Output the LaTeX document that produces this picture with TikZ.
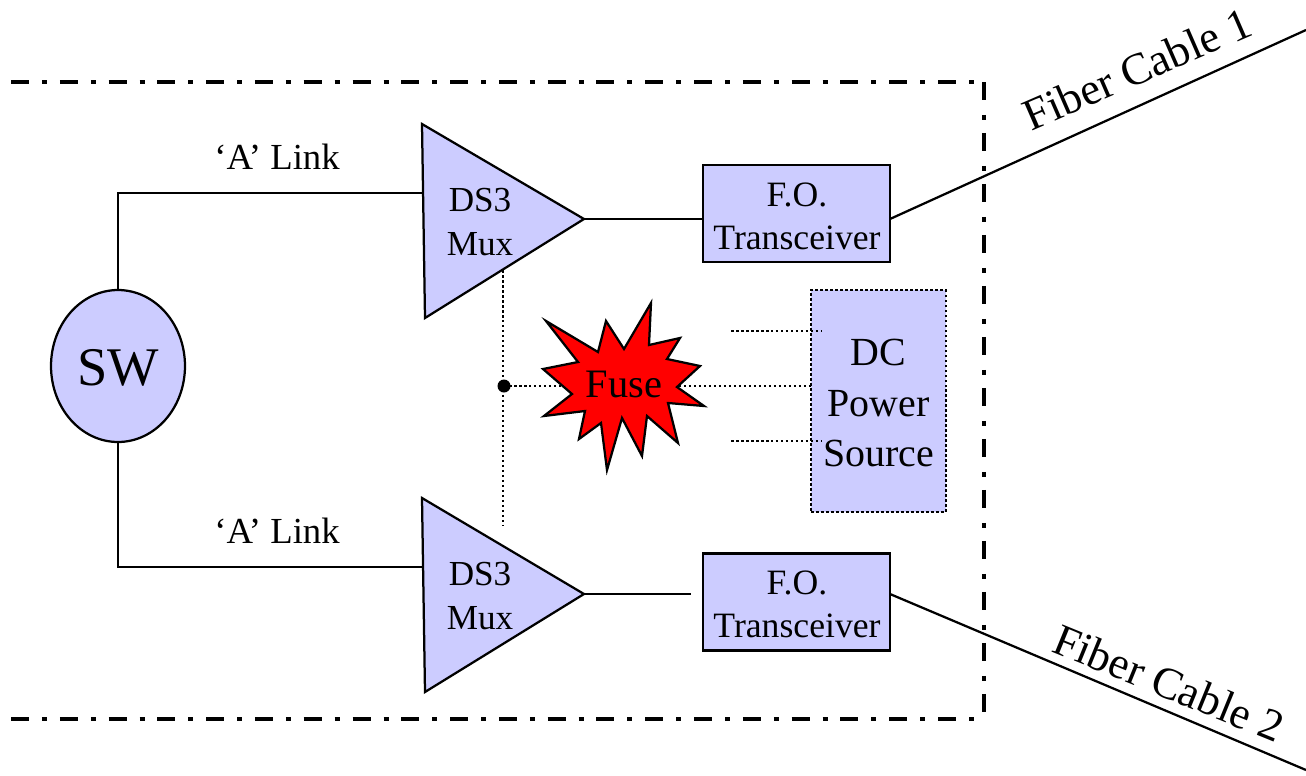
\documentclass[tikz,border=0pt]{standalone}
\usepackage{fontspec}
\setmainfont{Liberation Serif}
\usepackage{xcolor}
\usepackage{tikz}
\usetikzlibrary{positioning,shapes.geometric}
\definecolor{boxblue}{HTML}{CCCCFF}
\tikzset{
  wire/.style={line width=0.045cm},
  dotwire/.style={line width=0.05cm,dash pattern=on 0.05cm off 0.05cm},
  boundh/.style={line width=0.085cm,dash pattern=on 0.36cm off 0.26cm on 0.1cm off 0.256cm},
  boundv/.style={line width=0.085cm,dash pattern=on 0.36cm off 0.3cm on 0.1cm off 0.26cm},
  muxshape/.style={draw,line width=0.045cm,fill=boxblue,line join=miter},
  muxlabel/.style={align=center,font=\fontsize{20}{25.5}\selectfont},
  fobox/.style={draw,line width=0.045cm,fill=boxblue,minimum width=3.74cm,minimum height=1.94cm,inner sep=0pt,outer sep=0pt},
  folabel/.style={align=center,font=\fontsize{20.3}{24.6}\selectfont},
  linklabel/.style={font=\fontsize{20.9}{25}\selectfont},
  cablelabel/.style={font=\fontsize{25.5}{30}\selectfont},
}
\begin{document}
\begin{tikzpicture}[x=0.02cm,y=-0.02cm]
\useasboundingbox (0,0) rectangle (1306,775);
% dash-dot boundary
\draw[boundh] (11,82) -- (978,82);
\draw[boundh] (11,719) -- (978,719);
\draw[boundv] (984,82) -- (984,712);
% switch
\node[draw,ellipse,line width=0.045cm,fill=boxblue,minimum width=2.68cm,minimum height=3.04cm,inner sep=0pt,outer sep=0pt] (sw) at (118,366) {};
\node[font=\fontsize{31}{36}\selectfont] (swlabel) at (118,368) {SW};
% muxes
\draw[muxshape] (422,124) coordinate (muxAin) -- (584,219) coordinate (muxAtip) -- (425,318) -- cycle;
\node[muxlabel] (muxA) at (480,222) {DS3\\Mux};
\draw[muxshape] (422,498) coordinate (muxBin) -- (584,594) coordinate (muxBtip) -- (425,692) -- cycle;
\node[muxlabel] (muxB) at (480,596) {DS3\\Mux};
% transceivers
\node[fobox] (foA) at (796.5,213.5) {};
\node[folabel] (foAlabel) at (797,216.5) {F.O.\\Transceiver};
\node[fobox] (foB) at (796.5,602) {};
\node[folabel] (foBlabel) at (797,604.5) {F.O.\\Transceiver};
% links
\coordinate (linkA) at (422,193);
\coordinate (linkB) at (422,567);
\draw[wire] (sw.north) -- (sw.north |- linkA) -- (linkA);
\draw[wire] (sw.south) -- (sw.south |- linkB) -- (linkB);
\node[linklabel] (labelA) at (277,157) {‘A’ Link};
\node[linklabel] (labelB) at (277,531) {‘A’ Link};
\draw[wire] (muxAtip) -- (muxAtip -| foA.west);
\coordinate (muxBend) at (691,594);
\draw[wire] (muxBtip) -- (muxBend);
% fiber cables
\coordinate (cableAend) at (1306,30);
\coordinate (cableBend) at (1306,770);
\draw[wire] (foA.east |- muxAtip) -- (cableAend);
\draw[wire] (foB.east |- muxBtip) -- (cableBend);
\node[cablelabel,rotate=23.5] (cableA) at (1137,69) {Fiber Cable 1};
\node[cablelabel,rotate=-22.2] (cableB) at (1169,683) {Fiber Cable 2};
% dc power
\node[fobox,dotwire,minimum width=2.7cm,minimum height=4.44cm] (dc) at (878.5,401) {};
\node[align=center,font=\fontsize{22.7}{28.5}\selectfont] (dclabel) at (878.5,403) {DC\\Power\\Source};
\coordinate (feedtop) at (503,270);
\coordinate (feedbot) at (503,525);
\coordinate (stubAl) at (731,331);
\coordinate (stubAr) at (822,331);
\coordinate (stubBl) at (731,441);
\coordinate (stubBr) at (822,441);
\draw[dotwire] (feedtop) -- (feedbot);
\draw[dotwire] (stubAl) -- (stubAr);
\draw[dotwire] (stubBl) -- (stubBr);
\fill (504,386) circle (6.5) coordinate (tap);
\draw[dotwire] (tap) -- (tap -| dc.west);
% fuse
\draw[fill=red,line width=0.045cm,line join=miter] (546,321) -- (598,352) -- (606,321) -- (624,349) -- (651,303) -- (649,345) -- (680,338) -- (667,359) -- (700,366) -- (677,387) -- (704,406) -- (668,403) -- (678,443) -- (647,416) -- (642,456) -- (622,418) -- (607,470) -- (601,423) -- (579,439) -- (585,411) -- (544,416) -- (572,394) -- (543,369) -- (578,362) -- cycle;
\node[font=\fontsize{23}{27}\selectfont] (fuse) at (624,384) {Fuse};
\end{tikzpicture}
\end{document}
